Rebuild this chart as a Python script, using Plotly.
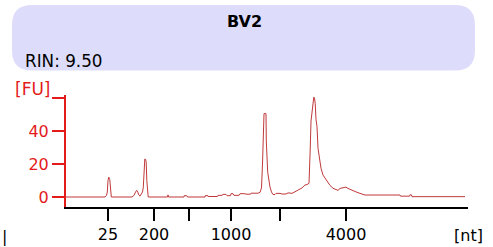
import plotly.graph_objects as go

# Electropherogram trace (migration position in time units, fluorescence in FU)
time_pos = [66, 105, 106.5, 107.3, 108, 108.8, 109.8, 110.5, 111.3, 132, 134, 135.5, 136.7,
            137.8, 138.8, 140, 141.3, 142.5, 143.3, 144.2, 144.8, 145.6, 146.2, 146.8, 147.4,
            148.2, 167.5, 168, 168.6, 184, 184.2, 186.8, 187, 188, 205, 205.2, 208, 208.2,
            217.5, 218, 222, 223, 226, 227, 230.5, 231, 233, 234, 239, 240, 245, 246, 250.5,
            251, 256, 258, 260, 261.5, 262.5, 263.3, 264, 266, 266.3, 267.7, 269, 270, 271.5,
            273, 275, 276, 280, 282, 286, 288, 292, 295, 298, 300, 302, 305, 307, 309, 309.6,
            310.2, 311, 312, 313, 313.8, 314.5, 315.2, 316, 317, 318, 319.5, 321, 323, 325,
            327, 330, 333, 336, 338, 340, 343, 346, 348, 350, 353, 355, 358, 362, 365, 400,
            400.5, 409.5, 410, 411.5, 412, 465]
fu = [0, 0, 1, 3, 10, 12, 10.5, 3, 0, 0, 1, 3, 4,
      3, 1.2, 0.5, 1.5, 3, 6, 16, 23, 22.8, 21, 10, 1,
      0, 0, 1.3, 0, 0, 0.8, 0.8, 0.3, 0, 0, 0.8, 0.8, 0.3,
      0.3, 1.0, 1.0, 1.6, 1.6, 0.8, 0.8, 2.0, 2.0, 1.0, 1.0, 2.0, 2.0, 1.7, 1.7,
      2.3, 2.3, 2.3, 2.8, 5.5, 20, 31, 50.5, 50.5, 34, 15, 9, 6, 3,
      1.5, 1.5, 2.2, 2.2, 1.8, 1.8, 2.5, 2.2, 3.2, 4.0, 5.0, 5.5, 7.3, 7.5, 8.3, 15,
      28.5, 46, 52, 54.7, 60.5, 60, 56.8, 47, 42.6, 29.5, 22.4, 17.4, 13.3, 11.3,
      9.3, 7, 5.3, 4.5, 4.0, 5.2, 5.8, 6.0, 5.2, 4.6, 4.0, 3.6, 2.6, 1.8, 1.2, 1.2,
      0.5, 0.5, 1.3, 1.3, 0.2, 0.2]

x_tick_pos = [108, 154, 189, 231, 280, 346]
x_tick_text = ["25", "200", "", "1000", "", "4000"]
y_tick_vals = [0, 20, 40, 60]
y_tick_text = ["0", "20", "40", ""]
y_unit_label = "[FU]"
x_unit_label = "[nt]"

sample_name = "BV2"
rin_text = "RIN: 9.50"

W, H = 493, 247
AX_RED = "#E31B1B"
TRACE = "#C0393B"
FONT = "DejaVu Sans"


def px(x):
    return x / W


def py(y):
    return 1 - y / H


fig = go.Figure()
fig.add_trace(go.Scatter(x=time_pos, y=fu, mode="lines",
                         line=dict(color=TRACE, width=1), hoverinfo="skip",
                         showlegend=False))

# rounded header box
x0, x1, y0, y1, r = 12, 475, 5, 70.5, 20
path = (f"M {px(x0 + r)},{py(y0)} L {px(x1 - r)},{py(y0)} "
        f"Q {px(x1)},{py(y0)} {px(x1)},{py(y0 + r)} L {px(x1)},{py(y1 - r)} "
        f"Q {px(x1)},{py(y1)} {px(x1 - r)},{py(y1)} L {px(x0 + r)},{py(y1)} "
        f"Q {px(x0)},{py(y1)} {px(x0)},{py(y1 - r)} L {px(x0)},{py(y0 + r)} "
        f"Q {px(x0)},{py(y0)} {px(x0 + r)},{py(y0)} Z")
fig.add_shape(type="path", path=path, xref="paper", yref="paper",
              fillcolor="#DDDDFB", line=dict(width=0), layer="below")

fig.add_annotation(text=f"<b>{sample_name}</b>", x=px(244), y=py(21), xref="paper", yref="paper",
                   showarrow=False, xanchor="center", yanchor="middle",
                   font=dict(family=FONT, size=16, color="black"))
fig.add_annotation(text=rin_text, x=px(23), y=py(61), xref="paper", yref="paper",
                   showarrow=False, xanchor="left", yanchor="middle",
                   font=dict(family=FONT, size=16.8, color="black"))
fig.add_annotation(text=x_unit_label, x=px(468), y=py(235), xref="paper", yref="paper",
                   showarrow=False, xanchor="center", yanchor="middle",
                   font=dict(family=FONT, size=16, color="black"))
fig.add_annotation(text=y_unit_label, x=px(53), y=py(89), xref="paper", yref="paper",
                   showarrow=False, xanchor="right", yanchor="middle",
                   font=dict(family=FONT, size=17, color=AX_RED))
fig.add_annotation(text="|", x=px(0), y=py(236), xref="paper", yref="paper",
                   showarrow=False, xanchor="left", yanchor="middle",
                   font=dict(family=FONT, size=16, color="black"))

fig.update_layout(
    width=W, height=H,
    margin=dict(l=0, r=0, t=0, b=0),
    paper_bgcolor="white", plot_bgcolor="white",
    xaxis=dict(domain=[px(66), px(468)], range=[66, 468],
               showgrid=False, zeroline=False,
               showline=True, linecolor="black", linewidth=2,
               ticks="outside", ticklen=12, tickwidth=2, tickcolor="black",
               tickvals=x_tick_pos, ticktext=x_tick_text,
               tickfont=dict(family=FONT, size=16, color="black")),
    yaxis=dict(domain=[py(207), py(95)], range=[-6.06, 61.8],
               showgrid=False, zeroline=False,
               showline=True, linecolor=AX_RED, linewidth=2,
               ticks="outside", ticklen=12, tickwidth=2, tickcolor=AX_RED,
               tickvals=y_tick_vals, ticktext=y_tick_text,
               tickfont=dict(family=FONT, size=16, color=AX_RED)),
)

fig.write_html("out.html", config={"displayModeBar": False},
               post_script="document.body.style.margin='0px';document.body.style.overflow='hidden';")
